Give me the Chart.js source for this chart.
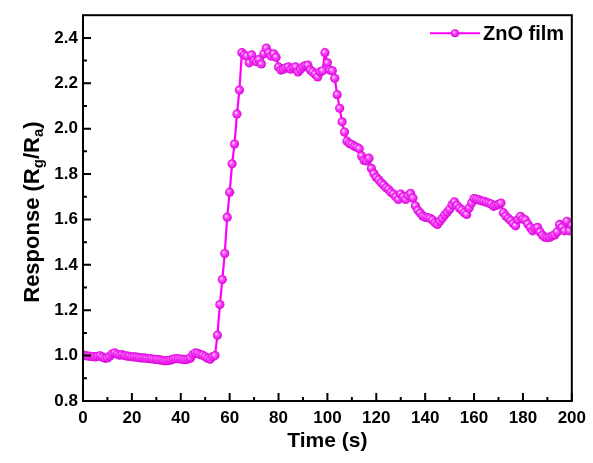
<!DOCTYPE html>
<html>
<head>
<meta charset="utf-8">
<script src="https://cdn.jsdelivr.net/npm/chart.js@4"></script>
<style>
  html, body { margin: 0; padding: 0; background: #fff; }
  #wrap { width: 593px; height: 463px; }
</style>
</head>
<body>
<div id="wrap"><canvas id="respChart" width="593" height="463"></canvas></div>
<script>
// response of the ZnO film, one reading per second (0 ... 200 s)
const response = [
    1.003, 1.000, 0.998, 0.997, 0.996, 0.994, 0.997, 0.999, 0.993, 0.988,
    0.990, 0.998, 1.008, 1.012, 1.006, 1.002, 1.004, 1.000, 0.998, 0.997,
    0.995, 0.994, 0.993, 0.991, 0.990, 0.990, 0.988, 0.987, 0.986, 0.984,
    0.983, 0.982, 0.980, 0.978, 0.977, 0.978, 0.981, 0.985, 0.987, 0.986,
    0.985, 0.983, 0.982, 0.985, 0.990, 1.005, 1.012, 1.010, 1.004, 1.002,
    0.995, 0.988, 0.984, 0.995, 1.000, 1.090, 1.225, 1.335, 1.450, 1.610,
    1.720, 1.845, 1.932, 2.065, 2.170, 2.335, 2.325, 2.320, 2.290, 2.325,
    2.300, 2.295, 2.305, 2.285, 2.330, 2.355, 2.335, 2.320, 2.330, 2.315,
    2.272, 2.258, 2.262, 2.268, 2.272, 2.262, 2.268, 2.272, 2.250, 2.262,
    2.272, 2.278, 2.280, 2.258, 2.250, 2.240, 2.228, 2.250, 2.255, 2.335,
    2.290, 2.258, 2.255, 2.222, 2.150, 2.090, 2.030, 1.985, 1.945, 1.935,
    1.930, 1.922, 1.918, 1.912, 1.880, 1.860, 1.858, 1.870, 1.825, 1.802,
    1.785, 1.775, 1.762, 1.752, 1.740, 1.732, 1.720, 1.712, 1.700, 1.688,
    1.712, 1.700, 1.688, 1.705, 1.715, 1.695, 1.660, 1.640, 1.628, 1.615,
    1.610, 1.608, 1.605, 1.598, 1.585, 1.578, 1.592, 1.605, 1.620, 1.632,
    1.645, 1.665, 1.678, 1.662, 1.650, 1.642, 1.630, 1.622, 1.650, 1.672,
    1.692, 1.690, 1.686, 1.682, 1.680, 1.676, 1.672, 1.668, 1.658, 1.662,
    1.666, 1.672, 1.630, 1.615, 1.605, 1.595, 1.582, 1.572, 1.600, 1.614,
    1.602, 1.598, 1.580, 1.565, 1.550, 1.560, 1.565, 1.545, 1.530, 1.522,
    1.520, 1.522, 1.528, 1.532, 1.545, 1.578, 1.565, 1.550, 1.592, 1.550,
    1.575
];
const time = Array.from({ length: response.length }, (_, i) => i);

const xTicks = [0, 20, 40, 60, 80, 100, 120, 140, 160, 180, 200];
const yTicks = [0.8, 1.0, 1.2, 1.4, 1.6, 1.8, 2.0, 2.2, 2.4];
const seriesName = 'ZnO film';

const FONT = '"Liberation Sans", Arial, Helvetica, sans-serif';
const MAGENTA = '#f0f';

// shaded ball look for the markers
const ballFill = (ctx) => {
    const c = ctx.chart;
    if (ctx.type !== 'data' || !c.scales.x || !ctx.parsed) return MAGENTA;
    const px = c.scales.x.getPixelForValue(ctx.parsed.x);
    const py = c.scales.y.getPixelForValue(ctx.parsed.y);
    if (!isFinite(px) || !isFinite(py)) return MAGENTA;
    const g = c.ctx.createRadialGradient(px - 1.3, py - 1.3, 0.3, px, py, 4.8);
    g.addColorStop(0, '#ffd6ff');
    g.addColorStop(0.35, '#ff4dff');
    g.addColorStop(1, '#d600d6');
    return g;
};

// frame, inward ticks, y title with subscripts, legend
const framePlugin = {
    id: 'frame',
    afterDraw(chart) {
        const { ctx, chartArea: a, scales } = chart;
        ctx.save();
        ctx.strokeStyle = '#000';
        ctx.lineWidth = 2;
        ctx.strokeRect(a.left, a.top, a.right - a.left, a.bottom - a.top);

        ctx.beginPath();
        xTicks.forEach((v, i) => {
            const px = scales.x.getPixelForValue(v);
            ctx.moveTo(px, a.bottom); ctx.lineTo(px, a.bottom - 8);
            if (i < xTicks.length - 1) {
                const mx = scales.x.getPixelForValue((v + xTicks[i + 1]) / 2);
                ctx.moveTo(mx, a.bottom); ctx.lineTo(mx, a.bottom - 4);
            }
        });
        yTicks.forEach((v, i) => {
            const py = scales.y.getPixelForValue(v);
            ctx.moveTo(a.left, py); ctx.lineTo(a.left + 8, py);
            const next = i < yTicks.length - 1 ? yTicks[i + 1] : v + 0.2;
            const my = scales.y.getPixelForValue((v + next) / 2);
            if (my > a.top + 2) { ctx.moveTo(a.left, my); ctx.lineTo(a.left + 4, my); }
        });
        ctx.stroke();

        // y title: Response (Rg/Ra)
        const parts = [
            ['Response (R', 22, 0], ['g', 15, 6], ['/R', 22, 0], ['a', 15, 6], [')', 22, 0]
        ];
        let total = 0;
        parts.forEach(p => { ctx.font = `bold ${p[1]}px ${FONT}`; total += ctx.measureText(p[0]).width; });
        ctx.translate(33, (a.top + a.bottom) / 2 + 4);
        ctx.rotate(-Math.PI / 2);
        ctx.fillStyle = '#000';
        ctx.textBaseline = 'middle';
        ctx.textAlign = 'left';
        let x0 = -total / 2;
        parts.forEach(p => {
            ctx.font = `bold ${p[1]}px ${FONT}`;
            ctx.fillText(p[0], x0, p[2]);
            x0 += ctx.measureText(p[0]).width;
        });
        ctx.restore();

        // legend
        ctx.save();
        const ly = a.top + 18;
        ctx.strokeStyle = MAGENTA;
        ctx.lineWidth = 2;
        ctx.beginPath();
        ctx.moveTo(430, ly); ctx.lineTo(480, ly);
        ctx.stroke();
        const g = ctx.createRadialGradient(453.8, ly - 1.2, 0.3, 455, ly, 4);
        g.addColorStop(0, '#ffd6ff');
        g.addColorStop(0.35, '#ff4dff');
        g.addColorStop(1, '#d600d6');
        ctx.fillStyle = g;
        ctx.beginPath();
        ctx.arc(455, ly, 4, 0, Math.PI * 2);
        ctx.fill();
        ctx.fillStyle = '#000';
        ctx.font = `bold 20px ${FONT}`;
        ctx.textBaseline = 'middle';
        ctx.fillText(seriesName, 483, ly + 1);
        ctx.restore();
    }
};

const chartConfig = {
    type: 'line',
    data: {
        datasets: [{
            label: seriesName,
            data: time.map((t, i) => ({ x: t, y: response[i] })),
            borderColor: MAGENTA,
            borderWidth: 2.2,
            backgroundColor: MAGENTA,
            pointRadius: 4.6,
            pointBorderWidth: 0,
            pointBackgroundColor: ballFill,
            pointStyle: 'circle',
            tension: 0
        }]
    },
    options: {
        responsive: false,
        animation: false,
        layout: { padding: { left: 0, right: 21, top: 7, bottom: 0 } },
        plugins: {
            legend: { display: false },
            tooltip: { enabled: false }
        },
        scales: {
            x: {
                type: 'linear',
                min: 0,
                max: 200,
                afterBuildTicks: (s) => { s.ticks = xTicks.map(v => ({ value: v })); },
                afterFit: (s) => { s.height = 62; },
                grid: { display: false, drawTicks: false },
                border: { display: false },
                ticks: {
                    padding: 7,
                    color: '#000',
                    maxRotation: 0,
                    autoSkip: false,
                    font: { family: FONT, size: 17, weight: 'bold' }
                },
                title: {
                    display: true,
                    text: 'Time (s)',
                    color: '#000',
                    padding: { top: 0, bottom: 9 },
                    font: { family: FONT, size: 21, weight: 'bold' }
                }
            },
            y: {
                type: 'linear',
                min: 0.8,
                max: 2.5,
                afterBuildTicks: (s) => { s.ticks = yTicks.map(v => ({ value: v })); },
                afterFit: (s) => { s.width = 83; },
                grid: { display: false, drawTicks: false },
                border: { display: false },
                ticks: {
                    padding: 5,
                    color: '#000',
                    autoSkip: false,
                    callback: (v) => v.toFixed(1),
                    font: { family: FONT, size: 17, weight: 'bold' }
                }
            }
        }
    },
    plugins: [framePlugin]
};

const respChart = new Chart(document.getElementById('respChart'), chartConfig);
</script>
</body>
</html>
